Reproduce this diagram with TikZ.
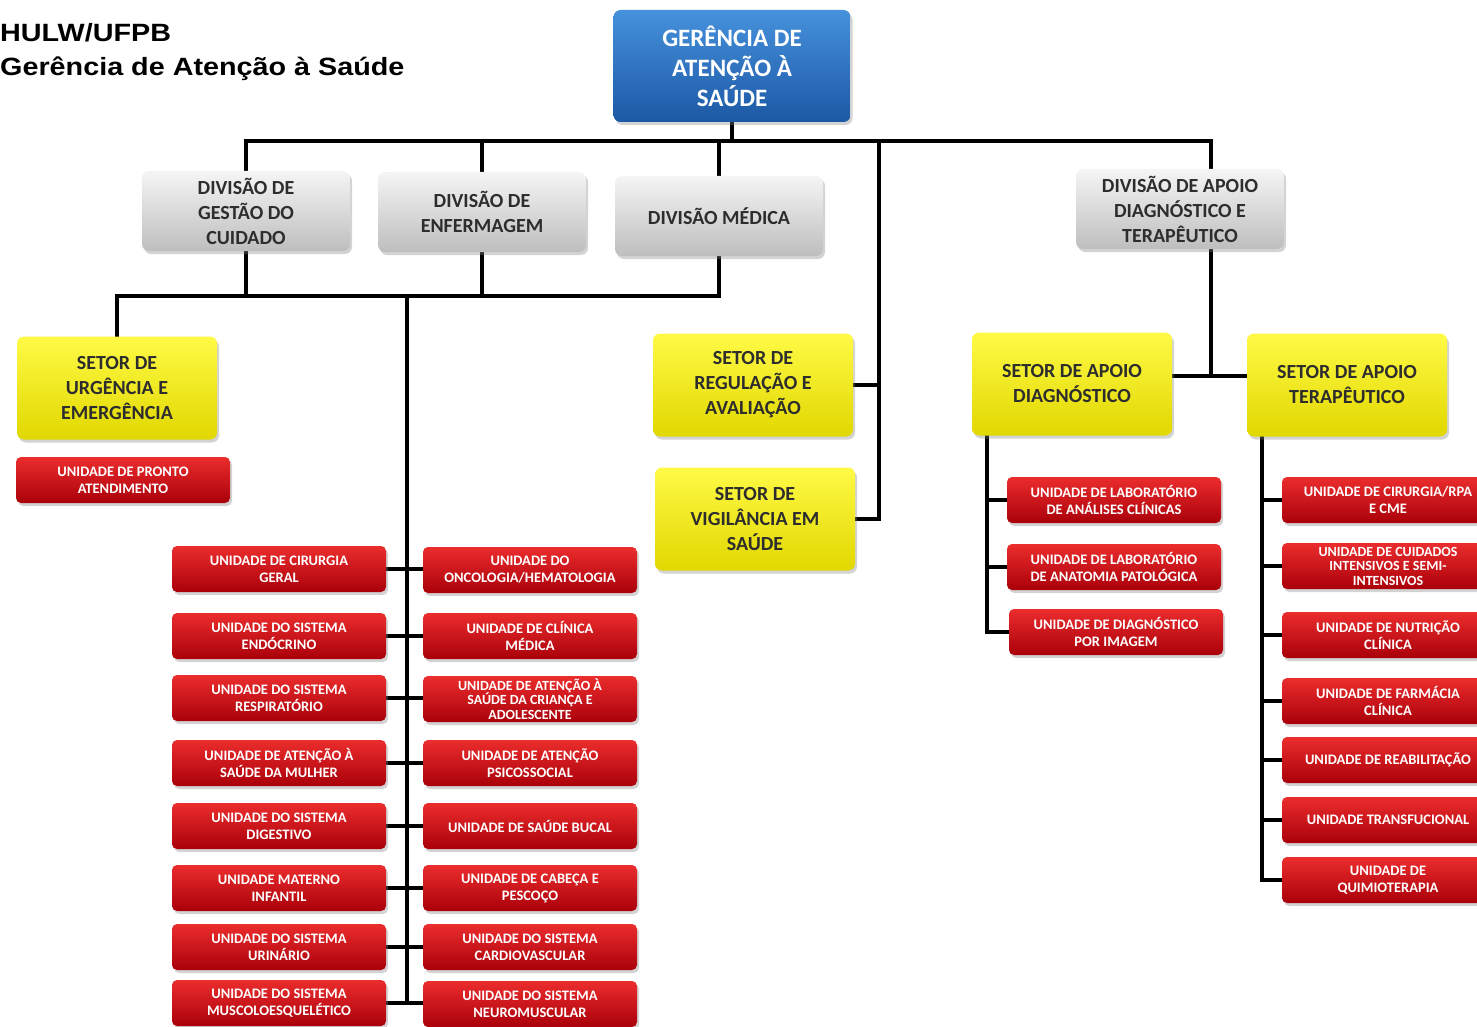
\documentclass[tikz,border=0pt]{standalone}
\usepackage{fontspec}
\setmainfont{Carlito}
\newfontfamily\titlefont[FakeStretch=1.15]{Liberation Sans}
\usetikzlibrary{shadows,backgrounds}
\definecolor{cBa}{RGB}{70,145,220}
\definecolor{cBb}{RGB}{28,88,165}
\definecolor{cGa}{RGB}{245,245,245}
\definecolor{cGb}{RGB}{190,190,190}
\definecolor{cYa}{RGB}{255,250,70}
\definecolor{cYb}{RGB}{225,215,0}
\definecolor{cRa}{RGB}{235,45,45}
\definecolor{cRb}{RGB}{170,0,10}
\definecolor{cTxt}{RGB}{45,45,45}
\begin{document}
\begin{tikzpicture}[x=1pt,y=-1pt,
  box/.style={rounded corners=7pt, align=center, inner sep=2pt,
    drop shadow={shadow xshift=2pt,shadow yshift=-3pt,opacity=0.35}},
  blueb/.style={box, top color=cBa, bottom color=cBb, text=white,
    minimum width=237pt, minimum height=112pt,
    font=\bfseries\fontsize{25}{30}\selectfont},
  grayb/.style={box, top color=cGa, bottom color=cGb, text=cTxt,
    minimum width=208pt, minimum height=80pt,
    font=\bfseries\fontsize{20}{25}\selectfont},
  yellowb/.style={box, top color=cYa, bottom color=cYb, text=cTxt,
    minimum width=200pt, minimum height=103pt,
    font=\bfseries\fontsize{20}{25}\selectfont},
  redb/.style={box, rounded corners=5pt, top color=cRa, bottom color=cRb, text=white,
    minimum width=214pt, minimum height=46pt,
    font=\bfseries\fontsize{14.5}{17}\selectfont},
  redthree/.style={redb, font=\bfseries\fontsize{14}{14.5}\selectfont},
  link/.style={line width=3.5pt, black}]
\useasboundingbox (0,0) rectangle (1477,1027);

% title
\node[anchor=west, inner sep=0pt, font=\titlefont\bfseries\fontsize{25}{28}\selectfont] (t1) at (0,33) {HULW/UFPB};
\node[anchor=west, inner sep=0pt, font=\titlefont\bfseries\fontsize{25}{28}\selectfont] (t2) at (0,69) {Gerência de Atenção à Saúde};

% top
\node[blueb] (ger) at (732,66) {GERÊNCIA DE\\ATENÇÃO À\\SAÚDE};

% divisions
\node[grayb] (g1) at (246,211) {DIVISÃO DE\\GESTÃO DO\\CUIDADO};
\node[grayb] (g2) at (482,212) {DIVISÃO DE\\ENFERMAGEM};
\node[grayb] (g3) at (719,216) {DIVISÃO MÉDICA};
\node[grayb] (g4) at (1180,209) {DIVISÃO DE APOIO\\DIAGNÓSTICO E\\TERAPÊUTICO};

% sectors
\node[yellowb] (s1) at (117,388) {SETOR DE\\URGÊNCIA E\\EMERGÊNCIA};
\node[yellowb] (s2) at (753,385) {SETOR DE\\REGULAÇÃO E\\AVALIAÇÃO};
\node[yellowb] (s3) at (755,519) {SETOR DE\\VIGILÂNCIA EM\\SAÚDE};
\node[yellowb] (s4) at (1072,384) {SETOR DE APOIO\\DIAGNÓSTICO};
\node[yellowb] (s5) at (1347,385) {SETOR DE APOIO\\TERAPÊUTICO};

% units
\node[redb] (pa) at (123,480) {UNIDADE DE PRONTO\\ATENDIMENTO};

\node[redb] (L1) at (279,569) {UNIDADE DE CIRURGIA\\GERAL};
\node[redb] (L2) at (279,636) {UNIDADE DO SISTEMA\\ENDÓCRINO};
\node[redb] (L3) at (279,698) {UNIDADE DO SISTEMA\\RESPIRATÓRIO};
\node[redb] (L4) at (279,763) {UNIDADE DE ATENÇÃO À\\SAÚDE DA MULHER};
\node[redb] (L5) at (279,826) {UNIDADE DO SISTEMA\\DIGESTIVO};
\node[redb] (L6) at (279,888) {UNIDADE MATERNO\\INFANTIL};
\node[redb] (L7) at (279,947) {UNIDADE DO SISTEMA\\URINÁRIO};
\node[redb] (L8) at (279,1003) {UNIDADE DO SISTEMA\\MUSCOLOESQUELÉTICO};

\node[redb] (R1) at (530,570) {UNIDADE DO\\ONCOLOGIA/HEMATOLOGIA};
\node[redb] (R2) at (530,636) {UNIDADE DE CLÍNICA\\MÉDICA};
\node[redthree] (R3) at (530,699) {UNIDADE DE ATENÇÃO À\\SAÚDE DA CRIANÇA E\\ADOLESCENTE};
\node[redb] (R4) at (530,763) {UNIDADE DE ATENÇÃO\\PSICOSSOCIAL};
\node[redb] (R5) at (530,826) {UNIDADE DE SAÚDE BUCAL};
\node[redb] (R6) at (530,888) {UNIDADE DE CABEÇA E\\PESCOÇO};
\node[redb] (R7) at (530,947) {UNIDADE DO SISTEMA\\CARDIOVASCULAR};
\node[redb] (R8) at (530,1004) {UNIDADE DO SISTEMA\\NEUROMUSCULAR};

\node[redb] (d1) at (1114,500) {UNIDADE DE LABORATÓRIO\\DE ANÁLISES CLÍNICAS};
\node[redb] (d2) at (1114,567) {UNIDADE DE LABORATÓRIO\\DE ANATOMIA PATOLÓGICA};
\node[redb] (d3) at (1116,632) {UNIDADE DE DIAGNÓSTICO\\POR IMAGEM};

\node[redb, minimum width=212pt] (e1) at (1388,500) {UNIDADE DE CIRURGIA/RPA\\E CME};
\node[redthree, minimum width=212pt] (e2) at (1388,566) {UNIDADE DE CUIDADOS\\INTENSIVOS E SEMI-\\INTENSIVOS};
\node[redb, minimum width=212pt] (e3) at (1388,635) {UNIDADE DE NUTRIÇÃO\\CLÍNICA};
\node[redb, minimum width=212pt] (e4) at (1388,701) {UNIDADE DE FARMÁCIA\\CLÍNICA};
\node[redb, minimum width=212pt] (e5) at (1388,760) {UNIDADE DE REABILITAÇÃO};
\node[redb, minimum width=212pt] (e6) at (1388,820) {UNIDADE TRANSFUCIONAL};
\node[redb, minimum width=212pt] (e7) at (1388,880) {UNIDADE DE\\QUIMIOTERAPIA};

\begin{scope}[on background layer]
  \coordinate (bus) at (732,141);
  \coordinate (t4) at (1211,141);
  \coordinate (t4b) at (1211,376);
  \coordinate (vb) at (879,141);
  \coordinate (bus2) at (407,296);
  \coordinate (dv) at (987,430);
  \coordinate (tv) at (1262,430);

  \draw[link] (ger.south) -- (bus);
  \draw[link, line cap=rect] (g1.north) -- (g1.north |- bus) -- (t4);
  \draw[link] (g2.north) -- (g2.north |- bus);
  \draw[link] (g3.north) -- (g3.north |- bus);
  \draw[link] (vb) -- (vb |- s3.east) -- (s3.east);
  \draw[link] (s2.east) -- (s2.east -| vb);
  \draw[link] (t4) -- (t4b);
  \draw[link] (s4.east |- t4b) -- (s5.west |- t4b);

  \draw[link] (g1.south) -- (g1.south |- bus2);
  \draw[link] (g2.south) -- (g2.south |- bus2);
  \draw[link] (g3.south) -- (g3.south |- bus2);
  \draw[link, line cap=rect] (s1.north) -- (s1.north |- bus2) -- (g3.south |- bus2);
  \draw[link] (bus2) -- (bus2 |- L8.east);
  \foreach \i in {1,...,8} { \draw[link] (L\i.east) -- (R\i.west |- L\i.east); }

  \draw[link] (dv) -- (dv |- d3.west) -- (d3.west);
  \draw[link] (dv |- d1.west) -- (d1.west);
  \draw[link] (dv |- d2.west) -- (d2.west);

  \draw[link] (tv) -- (tv |- e7.west) -- (e7.west);
  \foreach \i in {1,...,6} { \draw[link] (tv |- e\i.west) -- (e\i.west); }
\end{scope}
\end{tikzpicture}
\end{document}
